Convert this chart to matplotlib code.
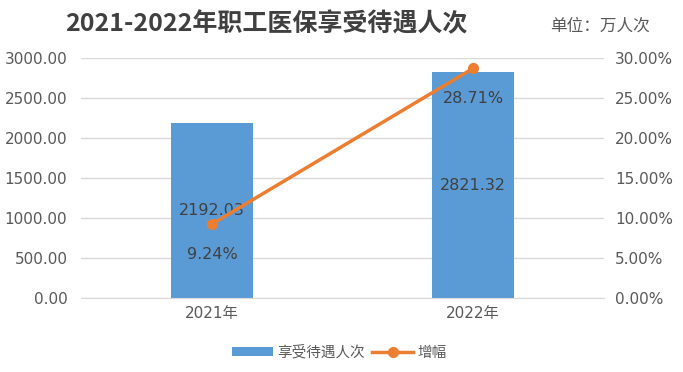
import numpy as np
import matplotlib.pyplot as plt
from matplotlib.ticker import FuncFormatter

plt.rcParams['font.family'] = ['DejaVu Sans', 'Noto Sans CJK SC']

years = ['2021年', '2022年']
people = [2192.03, 2821.32]
growth = [9.24, 28.71]

bar_color = '#5B9BD5'
line_color = '#ED7D31'
text_color = '#595959'
grid_color = '#D9D9D9'

fig = plt.figure(figsize=(6.83, 3.72), dpi=100)
ax = fig.add_axes([0.119, 0.199, 0.765, 0.645])
ax2 = ax.twinx()

x = np.arange(len(years)) + 0.5
ax.bar(x, people, width=0.314, color=bar_color, zorder=2, label='享受待遇人次')
ax2.plot(x, growth, color=line_color, lw=2.5, marker='o', ms=7, label='增幅', zorder=3)

ax.set_xlim(0, 2)
ax.set_ylim(0, 3000)
ax2.set_ylim(0, 30)
ax.set_yticks(np.arange(0, 3001, 500))
ax2.set_yticks(np.arange(0, 31, 5))
ax.yaxis.set_major_formatter(FuncFormatter(lambda v, p: f'{v:.2f}'))
ax2.yaxis.set_major_formatter(FuncFormatter(lambda v, p: f'{v:.2f}%'))
ax.set_xticks(x)
ax.set_xticklabels(years, family=['DejaVu Sans', 'Noto Sans CJK SC'])

ax.grid(axis='y', color=grid_color, lw=1, zorder=0)
ax.set_axisbelow(True)
for a in (ax, ax2):
    for s in a.spines.values():
        s.set_visible(False)
    a.tick_params(length=0, labelsize=11, colors=text_color)
ax.spines['bottom'].set_visible(True)
ax.spines['bottom'].set_color(grid_color)
ax.tick_params(axis='y', pad=10)
ax2.tick_params(axis='y', pad=8)
ax.tick_params(axis='x', pad=6)

# data labels
for xi, v in zip(x, people):
    ax.text(xi, v / 2, f'{v:.2f}', ha='center', va='center', fontsize=11.5, color='#404040', zorder=4)
for xi, g in zip(x, growth):
    ax2.annotate(f'{g:.2f}%', (xi, g), xytext=(0, -22), textcoords='offset points',
                 ha='center', va='center', fontsize=11.5, color='#404040', zorder=4)

fig.text(0.39, 0.935, '2021-2022年职工医保享受待遇人次', ha='center', va='center',
         fontsize=18, fontweight='bold', color='#404040', family=['Noto Sans CJK SC'])
fig.text(0.878, 0.93, '单位：万人次', ha='center', va='center', fontsize=12,
         color=text_color, family=['Noto Sans CJK SC'])

h1, l1 = ax.get_legend_handles_labels()
h2, l2 = ax2.get_legend_handles_labels()
fig.legend(h1 + h2, l1 + l2, loc='center', bbox_to_anchor=(0.497, 0.053), ncol=2, frameon=False,
           prop={'family': 'Noto Sans CJK SC', 'size': 10.5}, labelcolor=text_color,
           handlelength=2.8, handleheight=0.5, columnspacing=0.5, handletextpad=0.3)

fig.savefig('out.png', dpi=100)
